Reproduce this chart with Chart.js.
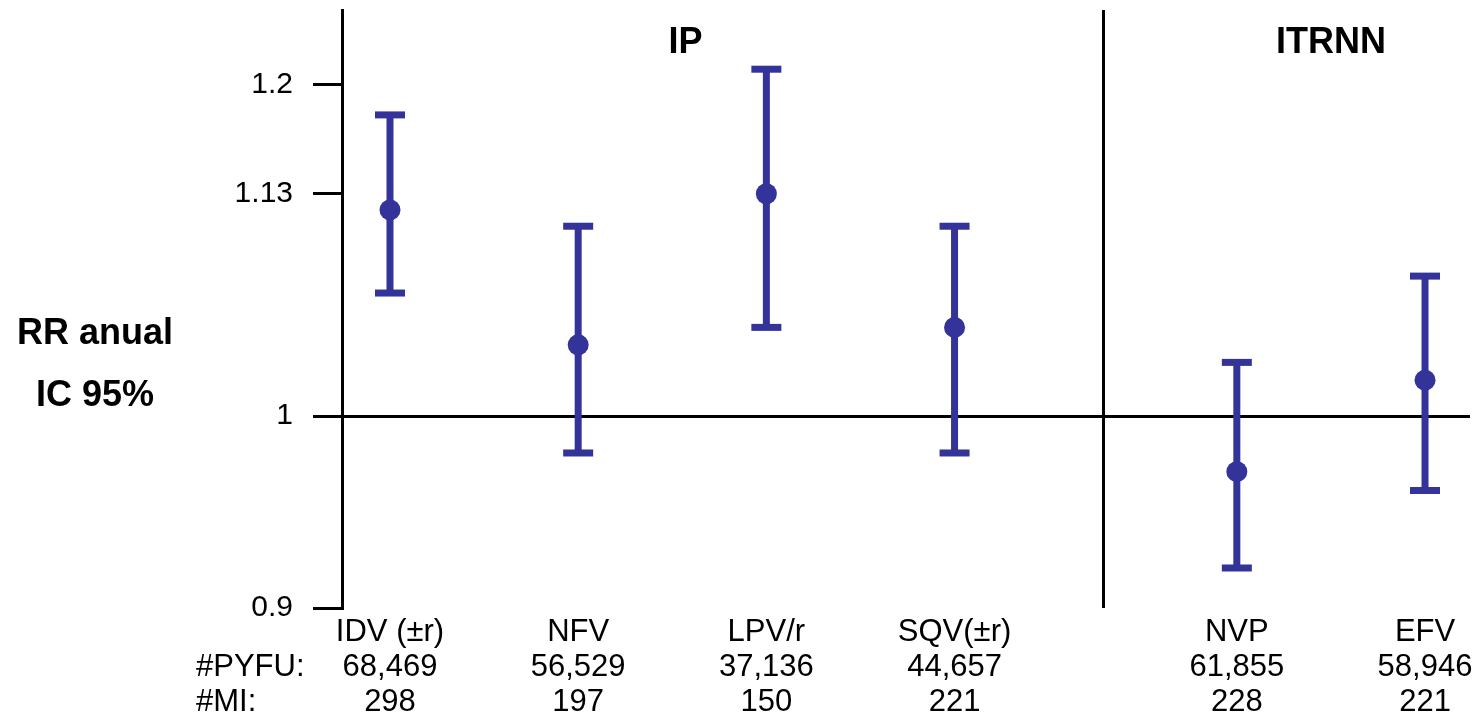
<!DOCTYPE html>
<html>
<head>
<meta charset="utf-8">
<script src="https://cdn.jsdelivr.net/npm/chart.js@4/dist/chart.umd.min.js"></script>
<style>
  html, body { margin: 0; padding: 0; background: #ffffff; }
  #wrap { width: 1479px; height: 717px; position: relative; }
</style>
</head>
<body>
<div id="wrap"><canvas id="chart" width="1479" height="717"></canvas></div>
<script>
// Annual relative risk of MI per drug, with 95% confidence interval
const categories = ['IDV (±r)', 'NFV', 'LPV/r', 'SQV(±r)', 'NVP', 'EFV'];
const xPositions = [1, 2, 3, 4, 5.5, 6.5];
const rr = [1.12, 1.04, 1.13, 1.05, 0.97, 1.02];
const ciLow = [1.07, 0.98, 1.05, 0.98, 0.92, 0.96];
const ciHigh = [1.18, 1.11, 1.21, 1.11, 1.03, 1.08];
const pyfu = ['68,469', '56,529', '37,136', '44,657', '61,855', '58,946'];
const miCounts = ['298', '197', '150', '221', '228', '221'];

const yTicks = [0.9, 1, 1.13, 1.2];
const yTickLabels = ['0.9', '1', '1.13', '1.2'];

const groupLabels = ['IP', 'ITRNN'];
const groupCenters = [2.57, 6.0];
const groupDivider = 4.79;

const rowLabels = ['#PYFU:', '#MI:'];
const yTitleLines = ['RR anual', 'IC 95%'];

const BLUE = '#333399';
const FONT = "'Liberation Sans', Arial, Helvetica, sans-serif";
const TICK_SIZE = 30;
const X_TICK_SIZE = 31;
const LINE_H = 35;
const X_PAD = 7;

// whiskers: one vertical segment per drug
const whiskerSets = xPositions.map((x, i) => ({
  type: 'line',
  data: [{ x: x, y: ciLow[i] }, { x: x, y: ciHigh[i] }],
  borderColor: BLUE,
  borderWidth: 7,
  borderCapStyle: 'butt',
  pointRadius: 0,
  pointHoverRadius: 0,
  fill: false
}));

const capData = [];
xPositions.forEach((x, i) => {
  capData.push({ x: x, y: ciLow[i] });
  capData.push({ x: x, y: ciHigh[i] });
});

function noEdgePadding(scale) {
  scale.paddingTop = 0;
  scale.paddingBottom = 0;
  scale.paddingLeft = 0;
  scale.paddingRight = 0;
}

const annotations = {
  id: 'annotations',
  afterDraw(chart) {
    const ctx = chart.ctx;
    const xs = chart.scales.x;
    const area = chart.chartArea;
    ctx.save();

    // divider between the two drug classes
    const dx = Math.round(xs.getPixelForValue(groupDivider)) + 0.5;
    ctx.strokeStyle = '#000';
    ctx.lineWidth = 3;
    ctx.beginPath();
    ctx.moveTo(dx, area.top);
    ctx.lineTo(dx, area.bottom);
    ctx.stroke();

    // class headers
    ctx.fillStyle = '#000';
    ctx.textAlign = 'center';
    ctx.textBaseline = 'middle';
    ctx.font = 'bold 36px ' + FONT;
    groupLabels.forEach((t, i) => {
      ctx.fillText(t, xs.getPixelForValue(groupCenters[i]), 43);
    });

    // y title, horizontal, two lines
    ctx.font = 'bold 36px ' + FONT;
    ctx.fillText(yTitleLines[0], 95, 334);
    ctx.fillText(yTitleLines[1], 95, 396);

    // row captions for the x labels
    ctx.font = X_TICK_SIZE + 'px ' + FONT;
    ctx.textAlign = 'left';
    rowLabels.forEach((t, k) => {
      ctx.fillText(t, 196, xs.top + X_PAD + LINE_H * (k + 1.5));
    });
    ctx.restore();
  }
};

new Chart(document.getElementById('chart'), {
  type: 'scatter',
  data: {
    datasets: [
      {
        data: xPositions.map((x, i) => ({ x: x, y: rr[i] })),
        pointStyle: 'circle',
        pointRadius: 10.5,
        pointHoverRadius: 10.5,
        backgroundColor: BLUE,
        borderColor: BLUE,
        borderWidth: 0
      },
      {
        data: capData,
        pointStyle: 'line',
        pointRadius: 15,
        pointHoverRadius: 15,
        borderColor: BLUE,
        borderWidth: 7
      },
      ...whiskerSets
    ]
  },
  options: {
    responsive: false,
    animation: false,
    events: [],
    layout: { autoPadding: false, padding: { left: 0, right: 9, top: 10, bottom: 0 } },
    plugins: {
      legend: { display: false },
      tooltip: { enabled: false },
      title: { display: false }
    },
    scales: {
      x: {
        type: 'linear',
        position: 'bottom',
        min: 0.745,
        max: 6.739,
        border: { display: false },
        grid: { display: false, drawTicks: false },
        afterBuildTicks(scale) {
          scale.ticks = xPositions.map(v => ({ value: v }));
        },
        afterFit(scale) {
          scale.height = 109;
          noEdgePadding(scale);
        },
        ticks: {
          autoSkip: false,
          maxRotation: 0,
          minRotation: 0,
          padding: X_PAD,
          color: '#000',
          font: { family: FONT, size: X_TICK_SIZE, lineHeight: LINE_H / X_TICK_SIZE },
          callback(value, index) {
            return [categories[index], pyfu[index], miCounts[index]];
          }
        }
      },
      y: {
        type: 'logarithmic',
        position: 'left',
        min: 0.9,
        max: 1.25,
        border: { display: true, color: '#000', width: 3 },
        grid: {
          display: true,
          drawOnChartArea: true,
          drawTicks: true,
          tickLength: 29,
          tickWidth: 3,
          tickColor: '#000',
          lineWidth: 3,
          color(ctx) {
            return ctx.tick && ctx.tick.value === 1 ? '#000' : 'rgba(0,0,0,0)';
          }
        },
        afterBuildTicks(scale) {
          scale.ticks = yTicks.map(v => ({ value: v }));
        },
        afterFit(scale) {
          scale.width = 342;
          noEdgePadding(scale);
        },
        ticks: {
          padding: 20,
          color: '#000',
          font: { family: FONT, size: TICK_SIZE },
          callback(value, index) { return yTickLabels[index]; }
        }
      }
    }
  },
  plugins: [annotations]
});
</script>
</body>
</html>
